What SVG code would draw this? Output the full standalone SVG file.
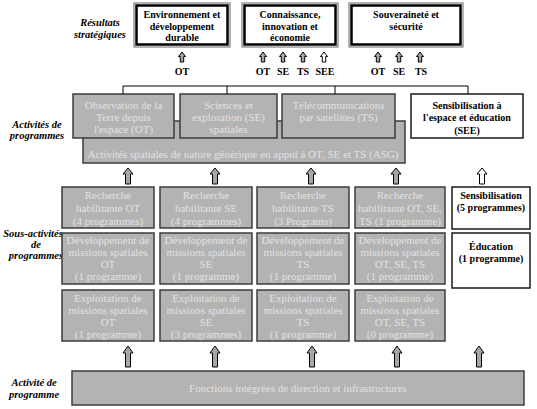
<svg xmlns="http://www.w3.org/2000/svg" xmlns:xlink="http://www.w3.org/1999/xlink" width="537" height="409" viewBox="0 0 537 409">
<defs>
<style>
.g{fill:#b3b3b3;stroke:#3c3c3c;stroke-width:1.5}
.w{fill:#fff;stroke:#1a1a1a;stroke-width:1.5}
.ob{fill:#fff;stroke:#666;stroke-width:1}
.ib{fill:none;stroke:#000;stroke-width:2.5}
.gt{font-family:"Liberation Serif",serif;font-size:11px;fill:#e2e2e2;text-anchor:middle}
.wt{font-family:"Liberation Serif",serif;font-size:10px;font-weight:bold;fill:#000;text-anchor:middle}
.lb{font-family:"Liberation Serif",serif;font-size:10.5px;font-weight:bold;font-style:italic;fill:#000;text-anchor:middle}
.ln{fill:none;stroke:#000;stroke-width:1}
.ag{fill:#a6a6a6;stroke:#000;stroke-width:1}
.aw{fill:#fff;stroke:#000;stroke-width:1}
</style>
<path id="aS" d="M0,0 L3.5,4.5 L1.7,4.5 L1.7,10 L-1.7,10 L-1.7,4.5 L-3.5,4.5 Z"/>
<path id="aM" d="M0,0 L5,6 L2.5,6 L2.5,16 L-2.5,16 L-2.5,6 L-5,6 Z"/>
<path id="aL" d="M0,0 L5,7 L2.5,7 L2.5,21 L-2.5,21 L-2.5,7 L-5,7 Z"/>
</defs>
<rect width="537" height="409" fill="#fff"/>

<g id="labels">
<text class="lb" x="100" y="26">Résultats</text>
<text class="lb" x="100" y="38">stratégiques</text>
<text class="lb" x="37" y="128">Activités de</text>
<text class="lb" x="37" y="139">programmes</text>
<text class="lb" x="33" y="237">Sous-activités</text>
<text class="lb" x="36" y="248">de</text>
<text class="lb" x="36" y="259">programmes</text>
<text class="lb" x="34" y="386">Activité de</text>
<text class="lb" x="34" y="398">programme</text>
</g>

<g id="res-env">
<rect class="ob" x="134" y="3" width="96" height="44"/>
<rect class="ib" x="136.5" y="5.5" width="91" height="39"/>
<text class="wt" x="182" y="18">Environnement et</text>
<text class="wt" x="182" y="30">développement</text>
<text class="wt" x="182" y="41">durable</text>
</g>
<g id="res-con">
<rect class="ob" x="242" y="3" width="96" height="44"/>
<rect class="ib" x="244.5" y="5.5" width="91" height="39"/>
<text class="wt" x="290" y="18">Connaissance,</text>
<text class="wt" x="290" y="30">innovation et</text>
<text class="wt" x="290" y="41">économie</text>
</g>
<g id="res-sou">
<rect class="ob" x="349" y="3" width="114" height="44"/>
<rect class="ib" x="351.5" y="5.5" width="109" height="39"/>
<text class="wt" x="406" y="18">Souveraineté et</text>
<text class="wt" x="406" y="30">sécurité</text>
</g>

<g id="res-labels">
<text class="wt" x="182" y="75">OT</text>
<text class="wt" x="263" y="75">OT</text>
<text class="wt" x="283" y="75">SE</text>
<text class="wt" x="303" y="75">TS</text>
<text class="wt" x="325" y="75">SEE</text>
<text class="wt" x="378" y="75">OT</text>
<text class="wt" x="399" y="75">SE</text>
<text class="wt" x="421" y="75">TS</text>
</g>

<g id="asg">
<rect class="g" x="83" y="121" width="322" height="42"/>
<text class="gt" x="243" y="158">Activités spatiales de nature générique en appui à OT, SE et TS (ASG)</text>
</g>
<g id="ot">
<rect class="g" x="73" y="94" width="101" height="44"/>
<text class="gt" x="123.5" y="109">Observation de la</text>
<text class="gt" x="123.5" y="121">Terre depuis</text>
<text class="gt" x="123.5" y="133">l'espace (OT)</text>
</g>
<g id="se">
<rect class="g" x="180" y="94" width="97" height="44"/>
<text class="gt" x="228.5" y="109">Sciences et</text>
<text class="gt" x="228.5" y="121">exploration (SE)</text>
<text class="gt" x="228.5" y="133">spatiales</text>
</g>
<g id="ts">
<rect class="g" x="282" y="94" width="113" height="44"/>
<text class="gt" x="338.5" y="109">Télécommunications</text>
<text class="gt" x="338.5" y="121">par satellites (TS)</text>
</g>
<g id="see">
<rect class="w" x="411" y="94" width="112" height="44"/>
<text class="wt" x="467" y="109">Sensibilisation à</text>
<text class="wt" x="467" y="121">l'espace et éducation</text>
<text class="wt" x="467" y="134">(SEE)</text>
</g>

<g id="rech-ot">
<rect class="g" x="62" y="187" width="92" height="41"/>
<text class="gt" x="108" y="199">Recherche</text>
<text class="gt" x="108" y="212">habilitante OT</text>
<text class="gt" x="108" y="225">(4 programmes)</text>
</g>
<g id="rech-se">
<rect class="g" x="160" y="187" width="92" height="41"/>
<text class="gt" x="206" y="199">Recherche</text>
<text class="gt" x="206" y="212">habilitante SE</text>
<text class="gt" x="206" y="225">(4 programmes)</text>
</g>
<g id="rech-ts">
<rect class="g" x="257" y="187" width="92" height="41"/>
<text class="gt" x="303" y="199">Recherche</text>
<text class="gt" x="303" y="212">habilitante TS</text>
<text class="gt" x="303" y="225">(3 Programs)</text>
</g>
<g id="rech-all">
<rect class="g" x="355" y="187" width="90" height="41"/>
<text class="gt" x="400" y="199">Recherche</text>
<text class="gt" x="400" y="212">habilitante OT, SE,</text>
<text class="gt" x="400" y="225">TS (1 programme)</text>
</g>
<g id="sensib">
<rect class="w" x="452" y="187" width="78" height="42"/>
<text class="wt" x="491" y="199">Sensibilisation</text>
<text class="wt" x="491" y="211">(5 programmes)</text>
</g>

<g id="dev-ot">
<rect class="g" x="62" y="233" width="92" height="51"/>
<text class="gt" x="108" y="244">Développement de</text>
<text class="gt" x="108" y="256">missions spatiales</text>
<text class="gt" x="108" y="268">OT</text>
<text class="gt" x="108" y="280">(1 programme)</text>
</g>
<g id="dev-se">
<rect class="g" x="160" y="233" width="92" height="51"/>
<text class="gt" x="206" y="244">Développement de</text>
<text class="gt" x="206" y="256">missions spatiales</text>
<text class="gt" x="206" y="268">SE</text>
<text class="gt" x="206" y="280">(1 programme)</text>
</g>
<g id="dev-ts">
<rect class="g" x="257" y="233" width="92" height="51"/>
<text class="gt" x="303" y="244">Développement de</text>
<text class="gt" x="303" y="256">missions spatiales</text>
<text class="gt" x="303" y="268">TS</text>
<text class="gt" x="303" y="280">(1 programme)</text>
</g>
<g id="dev-all">
<rect class="g" x="355" y="233" width="90" height="51"/>
<text class="gt" x="400" y="244">Développement de</text>
<text class="gt" x="400" y="256">missions spatiales</text>
<text class="gt" x="400" y="268">OT, SE, TS</text>
<text class="gt" x="400" y="280">(1 programme)</text>
</g>
<g id="educ">
<rect class="w" x="452" y="233" width="78" height="55"/>
<text class="wt" x="491" y="250">Éducation</text>
<text class="wt" x="491" y="262">(1 programme)</text>
</g>

<g id="exp-ot">
<rect class="g" x="62" y="290" width="92" height="51"/>
<text class="gt" x="108" y="302">Exploitation de</text>
<text class="gt" x="108" y="314">missions spatiales</text>
<text class="gt" x="108" y="326">OT</text>
<text class="gt" x="108" y="338">(1 programme)</text>
</g>
<g id="exp-se">
<rect class="g" x="160" y="290" width="92" height="51"/>
<text class="gt" x="206" y="302">Exploitation de</text>
<text class="gt" x="206" y="314">missions spatiales</text>
<text class="gt" x="206" y="326">SE</text>
<text class="gt" x="206" y="338">(3 programmes)</text>
</g>
<g id="exp-ts">
<rect class="g" x="257" y="290" width="92" height="51"/>
<text class="gt" x="303" y="302">Exploitation de</text>
<text class="gt" x="303" y="314">missions spatiales</text>
<text class="gt" x="303" y="326">TS</text>
<text class="gt" x="303" y="338">(1 programme)</text>
</g>
<g id="exp-all">
<rect class="g" x="355" y="290" width="90" height="51"/>
<text class="gt" x="400" y="302">Exploitation de</text>
<text class="gt" x="400" y="314">missions spatiales</text>
<text class="gt" x="400" y="326">OT, SE, TS</text>
<text class="gt" x="400" y="338">(0 programme)</text>
</g>

<g id="fonctions">
<rect class="g" x="72" y="371" width="452" height="34"/>
<text class="gt" x="298" y="392">Fonctions intégrées de direction et infrastructures</text>
</g>

<g id="connectors">
<path class="ln" d="M123,86 H468 M123,86 V94 M227,86 V94 M335,86 V94 M468,86 V94"/>
<use xlink:href="#aS" class="ag" x="182" y="52"/>
<use xlink:href="#aS" class="ag" x="263" y="52"/>
<use xlink:href="#aS" class="ag" x="283" y="52"/>
<use xlink:href="#aS" class="ag" x="303" y="52"/>
<use xlink:href="#aS" class="aw" x="324" y="52"/>
<use xlink:href="#aS" class="ag" x="378" y="52"/>
<use xlink:href="#aS" class="ag" x="399" y="52"/>
<use xlink:href="#aS" class="ag" x="420" y="52"/>
<use xlink:href="#aM" class="ag" x="128" y="168"/>
<use xlink:href="#aM" class="ag" x="215" y="168"/>
<use xlink:href="#aM" class="ag" x="311" y="168"/>
<use xlink:href="#aM" class="ag" x="396" y="168"/>
<use xlink:href="#aM" class="aw" x="482" y="168"/>
<use xlink:href="#aL" class="ag" x="128" y="346"/>
<use xlink:href="#aL" class="ag" x="215" y="346"/>
<use xlink:href="#aL" class="ag" x="312" y="346"/>
<use xlink:href="#aL" class="ag" x="397" y="346"/>
<use xlink:href="#aL" class="ag" x="479" y="346"/>
</g>
</svg>
